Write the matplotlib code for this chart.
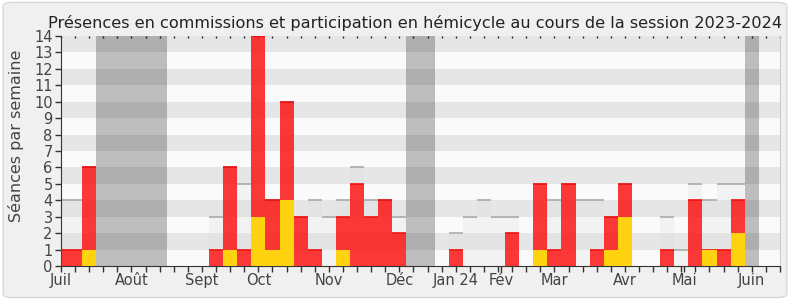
import numpy as np
from matplotlib import pyplot as plt
from matplotlib.patches import FancyBboxPatch

# données par semaine (0 = première semaine de juillet 2023)
semaines = np.arange(52)
commission = [1, 1, 6, 0, 0, 0, 0, 0, 0, 0, 0, 1, 6, 1, 14, 4, 10, 3, 1, 0,
              3, 5, 3, 4, 2, 0, 0, 0, 1, 0, 0, 0, 2, 0, 5, 1, 5, 0, 1, 3,
              5, 0, 0, 1, 0, 4, 1, 1, 4, 0, 0, 0]
hemicycle = [0, 0, 1, 0, 0, 0, 0, 0, 0, 0, 0, 0, 1, 0, 3, 1, 4, 0, 0, 0,
             1, 0, 0, 0, 0, 0, 0, 0, 0, 0, 0, 0, 0, 0, 1, 0, 0, 0, 0, 1,
             3, 0, 0, 0, 0, 0, 1, 0, 2, 0, 0, 0]
presence = [4, 4, 6, 0, 0, 0, 0, 0, 0, 0, 0, 3, 6, 5, 14, 4, 10, 3, 4, 3,
            4, 6, 4, 4, 3, 0, 0, 0, 2, 3, 4, 3, 3, 0, 5, 4, 5, 4, 4, 3,
            5, 0, 0, 3, 1, 5, 4, 5, 5, 0, 0, 0]
vacances = [(3, 7), (25, 26), (49, 49)]  # semaines de début / fin
mois = ['Juil', 'Août', 'Sept', 'Oct', 'Nov', 'Déc', 'Jan 24', 'Fév',
        'Mar', 'Avr', 'Mai', 'Juin']
mois_pos = [0, 5, 10, 14, 19, 24, 28, 31.2, 35, 40, 44.2, 49]

fig = plt.figure(figsize=(7.9, 3.0), dpi=100, facecolor='white')
fig.patches.append(FancyBboxPatch((0.004, 0.008), 0.992, 0.984,
                                  boxstyle='round,pad=0,rounding_size=0.012',
                                  transform=fig.transFigure, facecolor='#f0f0f0',
                                  edgecolor='#d9d9d9', linewidth=1, zorder=-10))
ax = fig.add_axes([0.0772, 0.1133, 0.9101, 0.7667])
ax.set_facecolor('#fafafa')

# bandes horizontales
for y in range(1, 14, 2):
    ax.axhspan(y, y + 1, color='#e6e6e6', lw=0, zorder=0)

# vacances parlementaires
for a, b in vacances:
    ax.axvspan(a - 0.5, b + 0.5, color='black', alpha=0.245, lw=0, zorder=1)

ax.bar(semaines, presence, width=1, color='#dddddd', alpha=0.25, lw=0, zorder=2)
ax.hlines([p for p in presence if p > 0],
          [s - 0.5 for s, p in zip(semaines, presence) if p > 0],
          [s + 0.5 for s, p in zip(semaines, presence) if p > 0],
          color='#aaaaaa', lw=1.2, zorder=2)
ax.bar(semaines, commission, width=1, color='red', alpha=0.77, lw=0, zorder=3)
ax.hlines([c for c in commission if c > 0],
          [s - 0.5 for s, c in zip(semaines, commission) if c > 0],
          [s + 0.5 for s, c in zip(semaines, commission) if c > 0],
          color='#ee1111', lw=1.2, zorder=3)
ax.bar(semaines, hemicycle, width=1, color='#ffd30f', lw=0, zorder=4)

ax.set_xlim(0, 51)
ax.set_ylim(0, 14)
ax.set_yticks(range(15))
ax.set_xticks(mois_pos)
ax.set_xticklabels(mois)
ax.set_xticks(semaines, minor=True)
ax.tick_params(axis='both', which='both', colors='#333333', labelcolor='#444444',
               labelsize=10.5, length=4, width=1)
ax.tick_params(axis='x', pad=1)
ax.tick_params(axis='y', pad=2)

top = ax.secondary_xaxis('top')
top.set_xticks(semaines)
top.set_xticklabels([])
top.tick_params(direction='in', length=1.5, width=1, colors='#222222')
top.spines['top'].set_visible(False)

ax.spines['top'].set_visible(False)
ax.spines['right'].set_color('#cccccc')
ax.spines['left'].set_color('#333333')
ax.spines['bottom'].set_color('#333333')

ax.set_ylabel('Séances par semaine', fontsize=11.5, color='#444444')
ax.yaxis.set_label_coords(-0.052, 0.565)
ax.set_title('Présences en commissions et participation en hémicycle au cours de la session 2023-2024',
             fontsize=11.6, color='#222222', pad=6, x=0.493)

plt.savefig('out.png', dpi=100, facecolor=fig.get_facecolor())
